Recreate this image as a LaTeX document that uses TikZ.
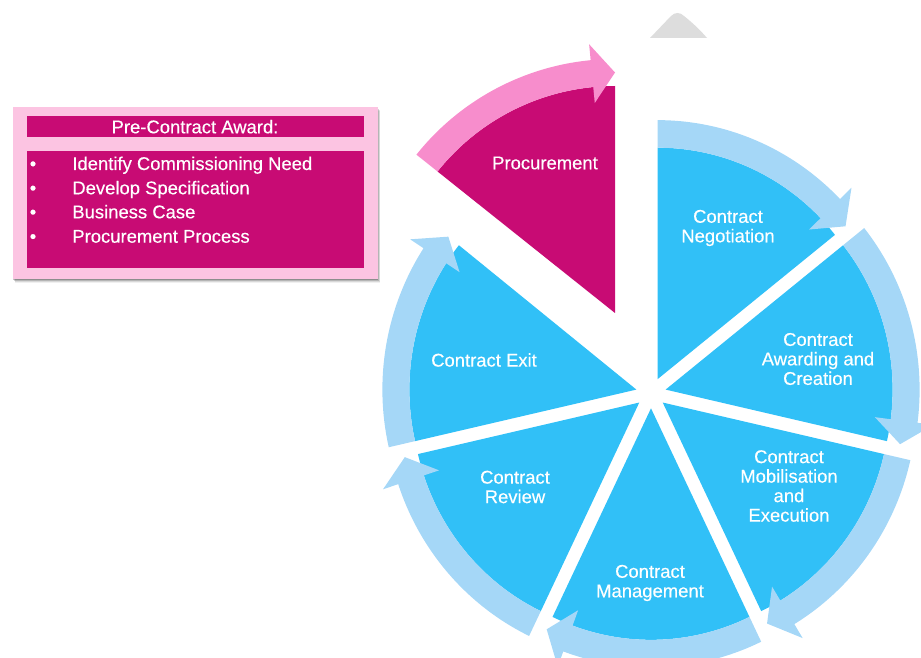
\documentclass[tikz,border=0pt]{standalone}
\usepackage{fontspec}
\setmainfont{Liberation Sans}[FakeBold=0.3]

\definecolor{procmagenta}{HTML}{C80B74}
\definecolor{procpink}{HTML}{F78DCC}
\definecolor{boxpink}{HTML}{FCC4E2}
\definecolor{wheelblue}{HTML}{31C0F7}
\definecolor{ringblue}{HTML}{A5D7F7}
\definecolor{topgray}{HTML}{DDDDDD}

\newcommand{\rimin}{227}
\newcommand{\rimout}{254}
\newcommand{\rimmid}{240.5}
\newcommand{\barbin}{211}
\newcommand{\barbout}{270}

% one step of the cycle: wedge plus curved arrow round its rim
% #1 placement of the apex, #2 start angle, #3 end angle, #4 wedge colour, #5 arrow colour
\newcommand{\cyclestep}[5]{%
  \begin{scope}[shift={(651,264)},#1]
    \fill[#4] (0,0) -- (#2:\rimin) arc[start angle=#2,end angle=#3,radius=\rimin] -- cycle;
    \pgfmathsetmacro\hb{#3+5.5}
    \fill[#5] (#2:\rimout) arc[start angle=#2,end angle=\hb,radius=\rimout]
      -- (\hb:\barbout) -- (#3:\rimmid) -- (\hb:\barbin) -- (\hb:\rimin)
      arc[start angle=\hb,end angle=#2,radius=\rimin] -- cycle;
  \end{scope}}

\tikzset{
  steplabel/.style={text=white,align=center,inner sep=0pt,
    font=\fontsize{10.5}{11.1}\selectfont},
  boxtext/.style={text=white,inner sep=0pt,font=\fontsize{10.5}{13}\selectfont}
}

\begin{document}
\begin{tikzpicture}[x=0.02cm,y=0.02cm]
\useasboundingbox (0,0) rectangle (921,657);
\clip (0,0) rectangle (921,657);

\fill[topgray] (650,619) -- (671,641) .. controls (675,645) and (680,645) .. (684,641)
  .. controls (694,633) and (701,626) .. (707,619) -- cycle;

\cyclestep{yscale=1.02,shift={(64.29:15)}}{90}{38.57}{wheelblue}{ringblue}
\cyclestep{yscale=1.02,shift={(12.86:15)}}{38.57}{-12.86}{wheelblue}{ringblue}
\cyclestep{yscale=1.02,shift={(-38.57:15)}}{-12.86}{-64.29}{wheelblue}{ringblue}
\cyclestep{yscale=1.02,shift={(-90:15)}}{-64.29}{-115.71}{wheelblue}{ringblue}
\cyclestep{yscale=1.02,shift={(-141.43:15)}}{-115.71}{-167.14}{wheelblue}{ringblue}
\cyclestep{yscale=1.02,shift={(167.14:15)}}{-167.14}{-218.57}{wheelblue}{ringblue}
\cyclestep{shift={(-36,80)}}{141.43}{90}{procmagenta}{procpink}

\node[steplabel] (proc) at (545,494) {Procurement};
\node[steplabel] (nego) at (728,429) {Contract\\Negotiation};
\node[steplabel] (award) at (818,298) {Contract\\Awarding and\\Creation};
\node[steplabel] (mobil) at (789,171) {Contract\\Mobilisation\\and\\Execution};
\node[steplabel] (manage) at (650,74) {Contract\\Management};
\node[steplabel] (review) at (515,170) {Contract\\Review};
\node[steplabel] (exit) at (484,297) {Contract Exit};

% pre-award box with its shadow
\foreach \d/\o in {1/.22,2/.16,3/.1,4/.06}
  \fill[black,opacity=\o] (12.7+\d*0.6,378-\d) rectangle (377.7+\d*0.6,550.3-\d);
\fill[boxpink] (12.7,378) rectangle (377.7,550.3);
\fill[procmagenta] (26.7,519.7) rectangle (364.3,541);
\fill[procmagenta] (26.7,388.7) rectangle (364.3,506);

\node[boxtext,anchor=base] (award title) at (195,523.7) {Pre-Contract Award:};
\node[boxtext,anchor=base] (dot1) at (33,487) {\textbullet};
\node[boxtext,anchor=base] (dot2) at (33,462.7) {\textbullet};
\node[boxtext,anchor=base] (dot3) at (33,438.7) {\textbullet};
\node[boxtext,anchor=base] (dot4) at (33,414.3) {\textbullet};
\node[boxtext,anchor=base west] (need) at (72,487) {Identify Commissioning Need};
\node[boxtext,anchor=base west] (spec) at (72,462.7) {Develop Specification};
\node[boxtext,anchor=base west] (case) at (72,438.7) {Business Case};
\node[boxtext,anchor=base west] (process) at (72,414.3) {Procurement Process};
\end{tikzpicture}
\end{document}
